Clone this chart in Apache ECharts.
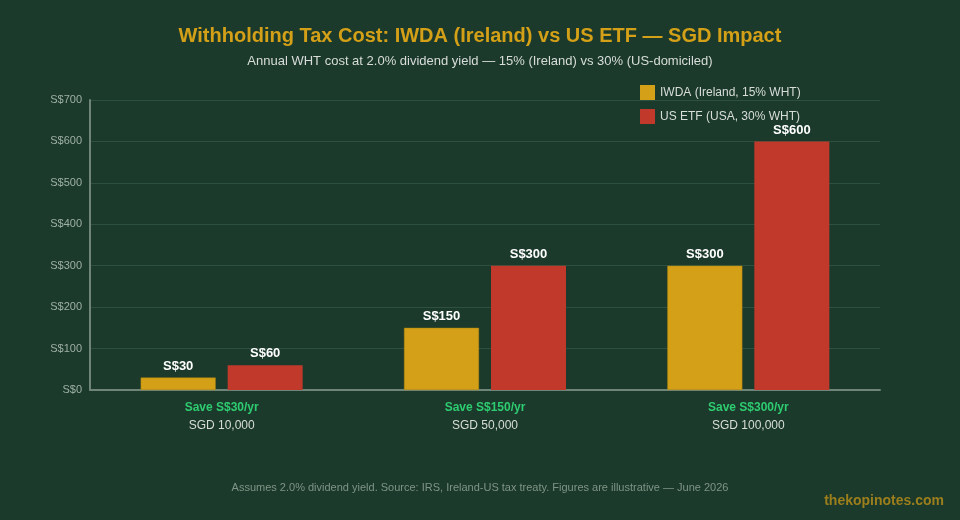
<!DOCTYPE html>
<html>
<head>
<meta charset="utf-8">
<script src="https://cdn.jsdelivr.net/npm/echarts@6/dist/echarts.min.js"></script>
<style>
  html, body { margin: 0; padding: 0; background: #1b3a2b; }
  #main { width: 960px; height: 520px; }
</style>
</head>
<body>
<div id="main"></div>
<script>
// investment amounts and annual WHT cost (SGD)
var categories = ["SGD 10,000", "SGD 50,000", "SGD 100,000"];
var savings = ["Save S$30/yr", "Save S$150/yr", "Save S$300/yr"];
var iwdaCost = [30, 150, 300];
var usCost = [60, 300, 600];
var yTicks = [0, 100, 200, 300, 400, 500, 600, 700];

var chart = echarts.init(document.getElementById("main"));

var option = {
  backgroundColor: "#1b3a2b",
  textStyle: { fontFamily: "Liberation Sans, Arial, sans-serif" },
  title: [
    {
      text: "Withholding Tax Cost: IWDA (Ireland) vs US ETF — SGD Impact",
      subtext: "Annual WHT cost at 2.0% dividend yield — 15% (Ireland) vs 30% (US-domiciled)",
      left: "center",
      top: 21,
      itemGap: 9,
      textStyle: { color: "#d4a017", fontSize: 20, fontWeight: "bold" },
      subtextStyle: { color: "#d8ddd9", fontSize: 13 }
    },
    {
      text: "Assumes 2.0% dividend yield. Source: IRS, Ireland-US tax treaty. Figures are illustrative — June 2026",
      left: "center",
      top: 477,
      textStyle: { color: "#7f9487", fontSize: 11, fontWeight: "normal" }
    },
    {
      text: "thekopinotes.com",
      right: 11,
      top: 489,
      textStyle: { color: "#9c7f1c", fontSize: 14, fontWeight: "bold" }
    }
  ],
  legend: {
    orient: "vertical",
    left: 635,
    top: 80,
    itemWidth: 15,
    itemHeight: 15,
    itemGap: 9,
    icon: "rect",
    itemStyle: { borderWidth: 0 },
    textStyle: { color: "#d8ddd9", fontSize: 12 },
    data: ["IWDA (Ireland, 15% WHT)", "US ETF (USA, 30% WHT)"]
  },
  grid: { left: 90, right: 80, top: 100, bottom: 130 },
  xAxis: {
    type: "category",
    data: categories,
    axisLine: { lineStyle: { color: "#6f857a", width: 2 } },
    axisTick: { show: false },
    axisLabel: {
      margin: 9,
      formatter: function (value, idx) {
        return "{s|" + savings[idx] + "}\n{c|" + value + "}";
      },
      rich: {
        s: { color: "#2ecc71", fontSize: 12, fontWeight: "bold", lineHeight: 18 },
        c: { color: "#d8ddd9", fontSize: 12, lineHeight: 18 }
      }
    }
  },
  yAxis: {
    type: "value",
    min: 0,
    max: 700,
    interval: 100,
    axisLine: { show: true, lineStyle: { color: "#6f857a", width: 2 } },
    axisTick: { show: false },
    splitLine: { lineStyle: { color: "#2d5040", width: 1 } },
    axisLabel: {
      color: "#9fb0a6",
      fontSize: 11,
      formatter: function (v) { return yTicks.indexOf(v) >= 0 ? "S$" + v : ""; }
    }
  },
  series: [
    {
      name: "IWDA (Ireland, 15% WHT)",
      type: "bar",
      data: iwdaCost,
      barWidth: 75,
      barGap: "16%",
      itemStyle: { color: "#d4a017", borderColor: "#b08612", borderWidth: 0.5 },
      label: {
        show: true,
        position: "top",
        color: "#ffffff",
        fontSize: 13,
        fontWeight: "bold",
        formatter: function (p) { return "S$" + p.value; }
      }
    },
    {
      name: "US ETF (USA, 30% WHT)",
      type: "bar",
      data: usCost,
      barWidth: 75,
      itemStyle: { color: "#c0392b" },
      label: {
        show: true,
        position: "top",
        color: "#ffffff",
        fontSize: 13,
        fontWeight: "bold",
        formatter: function (p) { return "S$" + p.value; }
      }
    }
  ]
};

chart.setOption(option);
</script>
</body>
</html>
